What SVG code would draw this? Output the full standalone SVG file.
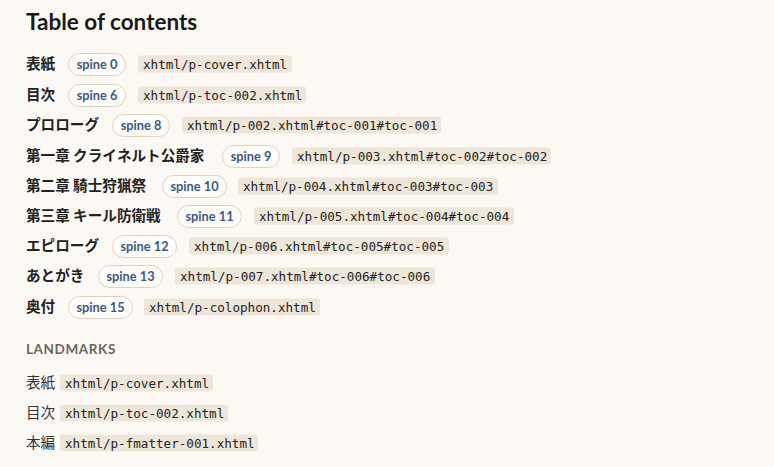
<svg xmlns="http://www.w3.org/2000/svg" width="774" height="467" viewBox="0 0 774 467">
<style>
.t{font-family:"Noto Sans CJK JP","Noto Sans",sans-serif;font-size:14.6px;fill:#222;font-weight:bold}
.l{font-family:"Noto Sans CJK JP","Noto Sans",sans-serif;font-size:14.6px;fill:#333}
.p{fill:#fffdf9;stroke:#e0d2bd;stroke-width:1}
.pt{font-family:Lato,"Noto Sans",sans-serif;font-size:12.8px;font-weight:bold;fill:#3b5a82;text-anchor:middle}
.c{fill:#efe6da}
.ct{font-family:"DejaVu Sans Mono",monospace;font-size:12.6px;fill:#222}
</style>
<rect width="774" height="467" fill="#fcf9f4"/>
<text x="26" y="30" font-family="Lato,'Noto Sans',sans-serif" font-size="22.5" font-weight="bold" fill="#1a1a1a">Table of contents</text>
<g id="toc">
<g id="r1"><text class="t" x="26" y="69">表紙</text><rect class="p" x="68.5" y="53.5" width="57" height="22" rx="11"/><text class="pt" x="97" y="69">spine 0</text><rect class="c" x="138" y="55.5" width="154" height="17" rx="3"/><text class="ct" x="143" y="68.5">xhtml/p-cover.xhtml</text></g>
<g id="r2"><text class="t" x="26" y="100">目次</text><rect class="p" x="68.5" y="84.5" width="57" height="22" rx="11"/><text class="pt" x="97" y="100">spine 6</text><rect class="c" x="138" y="86.5" width="168" height="17" rx="3"/><text class="ct" x="143" y="99.5">xhtml/p-toc-002.xhtml</text></g>
<g id="r3"><text class="t" x="26" y="130">プロローグ</text><rect class="p" x="112.5" y="114.5" width="57" height="22" rx="11"/><text class="pt" x="141" y="130">spine 8</text><rect class="c" x="182" y="116.5" width="259" height="17" rx="3"/><text class="ct" x="187" y="129.5">xhtml/p-002.xhtml#toc-001#toc-001</text></g>
<g id="r4"><text class="t" x="26" y="161">第一章 クライネルト公爵家</text><rect class="p" x="222.5" y="145.5" width="57" height="22" rx="11"/><text class="pt" x="251" y="161">spine 9</text><rect class="c" x="292" y="147.5" width="259" height="17" rx="3"/><text class="ct" x="297" y="160.5">xhtml/p-003.xhtml#toc-002#toc-002</text></g>
<g id="r5"><text class="t" x="26" y="191">第二章 騎士狩猟祭</text><rect class="p" x="162.5" y="175.5" width="64" height="22" rx="11"/><text class="pt" x="194.5" y="191">spine 10</text><rect class="c" x="238" y="177.5" width="260" height="17" rx="3"/><text class="ct" x="243" y="190.5">xhtml/p-004.xhtml#toc-003#toc-003</text></g>
<g id="r6"><text class="t" x="26" y="221">第三章 キール防衛戦</text><rect class="p" x="177.5" y="205.5" width="64" height="22" rx="11"/><text class="pt" x="209.5" y="221">spine 11</text><rect class="c" x="254" y="207.5" width="260" height="17" rx="3"/><text class="ct" x="259" y="220.5">xhtml/p-005.xhtml#toc-004#toc-004</text></g>
<g id="r7"><text class="t" x="26" y="251">エピローグ</text><rect class="p" x="112.5" y="235.5" width="64" height="22" rx="11"/><text class="pt" x="144.5" y="251">spine 12</text><rect class="c" x="189" y="237.5" width="260" height="17" rx="3"/><text class="ct" x="194" y="250.5">xhtml/p-006.xhtml#toc-005#toc-005</text></g>
<g id="r8"><text class="t" x="26" y="281">あとがき</text><rect class="p" x="98.5" y="265.5" width="64" height="22" rx="11"/><text class="pt" x="130.5" y="281">spine 13</text><rect class="c" x="175" y="267.5" width="260" height="17" rx="3"/><text class="ct" x="180" y="280.5">xhtml/p-007.xhtml#toc-006#toc-006</text></g>
<g id="r9"><text class="t" x="26" y="312">奥付</text><rect class="p" x="68.5" y="296.5" width="64" height="22" rx="11"/><text class="pt" x="100.5" y="312">spine 15</text><rect class="c" x="144" y="298.5" width="176" height="17" rx="3"/><text class="ct" x="149" y="311.5">xhtml/p-colophon.xhtml</text></g>
</g>
<text x="26" y="354" font-family="Lato,'Noto Sans',sans-serif" font-size="13.5" font-weight="bold" fill="#6b6560" letter-spacing="0.6">LANDMARKS</text>
<g id="landmarks">
<g id="m1"><text class="l" x="26" y="388">表紙</text><rect class="c" x="60" y="374.5" width="153" height="17" rx="3"/><text class="ct" x="65" y="387.5">xhtml/p-cover.xhtml</text></g>
<g id="m2"><text class="l" x="26" y="418">目次</text><rect class="c" x="60" y="404.5" width="168" height="17" rx="3"/><text class="ct" x="65" y="417.5">xhtml/p-toc-002.xhtml</text></g>
<g id="m3"><text class="l" x="26" y="448">本編</text><rect class="c" x="60" y="434.5" width="198" height="17" rx="3"/><text class="ct" x="65" y="447.5">xhtml/p-fmatter-001.xhtml</text></g>
</g>
</svg>
